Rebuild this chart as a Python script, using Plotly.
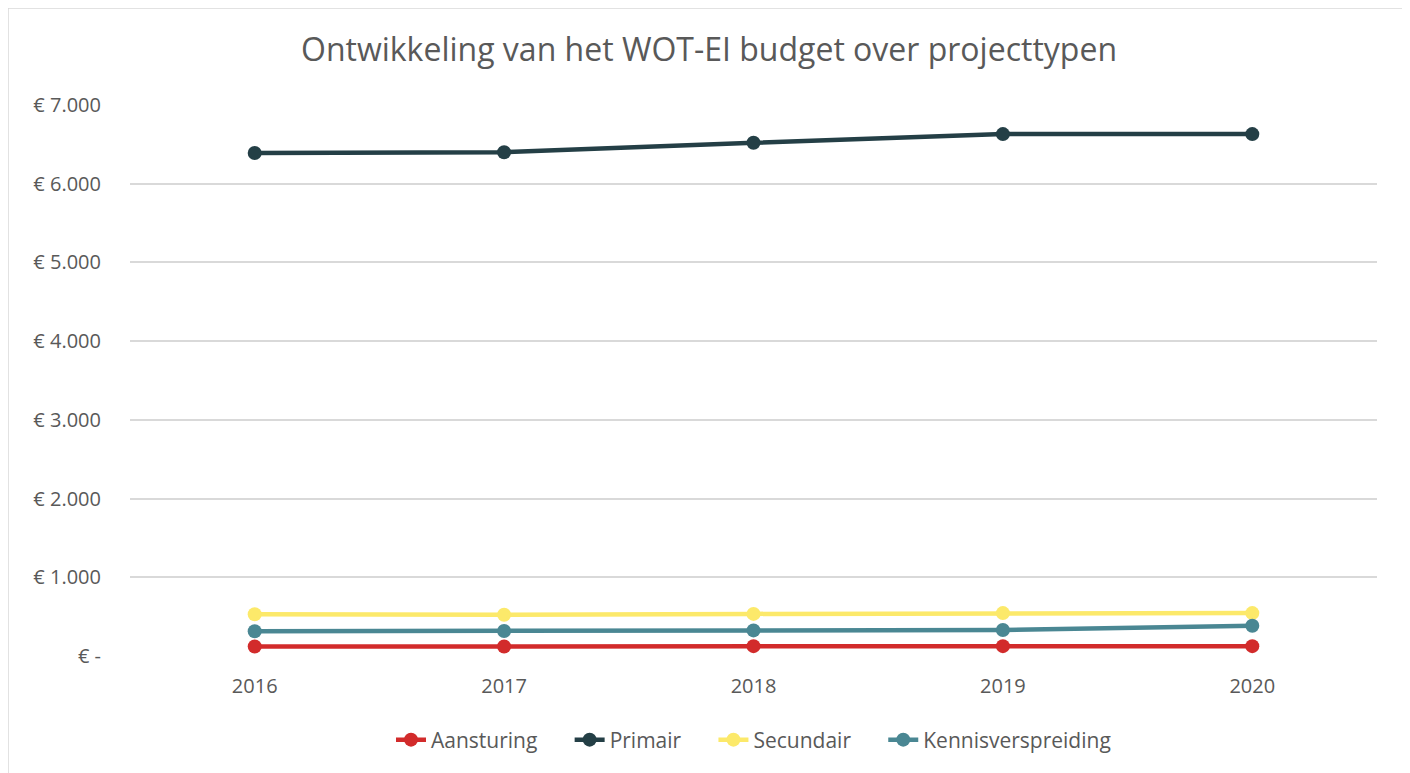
import plotly.graph_objects as go

years = ["2016", "2017", "2018", "2019", "2020"]
aansturing = [120, 120, 125, 125, 125]
primair = [6390, 6400, 6520, 6630, 6630]
secundair = [530, 525, 535, 545, 545]
kennisverspreiding = [315, 318, 325, 330, 385]

series = [
    ("Aansturing", aansturing, "#D22B2B"),
    ("Primair", primair, "#243F46"),
    ("Secundair", secundair, "#FCE96A"),
    ("Kennisverspreiding", kennisverspreiding, "#4A8793"),
]

tick_vals = [0, 1000, 2000, 3000, 4000, 5000, 6000, 7000]
tick_text = ["€ -", "€ 1.000", "€ 2.000", "€ 3.000", "€ 4.000", "€ 5.000", "€ 6.000", "€ 7.000"]

GAP = "\u00a0" * 5

fig = go.Figure()
for i, (name, vals, col) in enumerate(series):
    label = name + (GAP if i < len(series) - 1 else "")
    fig.add_trace(go.Scatter(
        x=years, y=vals, name=label, mode="lines+markers",
        line=dict(color=col, width=4.5),
        marker=dict(color=col, size=14),
        hovertemplate=name + ": %{y}<extra></extra>",
    ))

# page is rendered with an 8px body offset
OFF = 8
W, H = 1410 - OFF, 773 - OFF
ml, mr, mt, mb = 130 - OFF, 33, 105 - OFF, 117
pw, ph = W - ml - mr, H - mt - mb

def px_x(p):
    return (p - OFF - ml) / pw

def px_y(p):
    return (H - mb - (p - OFF)) / ph

fig.add_shape(type="rect", xref="paper", yref="paper",
              x0=px_x(8), x1=px_x(1404), y0=px_y(800), y1=px_y(8),
              line=dict(color="#D9D9D9", width=1.5), fillcolor="rgba(0,0,0,0)", layer="below")

fig.update_layout(
    width=W, height=H,
    margin=dict(l=ml, r=mr, t=mt, b=mb),
    paper_bgcolor="white", plot_bgcolor="white",
    font=dict(family="Open Sans, sans-serif", color="#595959"),
    title=dict(text="Ontwikkeling van het WOT-EI budget over projecttypen",
               x=0.5, xanchor="center", y=1 - (50 - OFF) / H, yanchor="middle",
               font=dict(size=32, color="#595959")),
    xaxis=dict(type="category", showgrid=False, zeroline=False, showline=False,
               ticks="", tickfont=dict(size=20, color="#595959"), range=[-0.5, 4.5]),
    yaxis=dict(range=[0, 7000], tickvals=tick_vals, ticktext=tick_text,
               showgrid=True, gridcolor="#D9D9D9", gridwidth=1.5, zeroline=False,
               showline=False, ticks="", ticklen=0, tickfont=dict(size=20, color="#595959"),
               automargin=False),
    legend=dict(orientation="h", x=0.5, xanchor="center", y=px_y(740), yanchor="middle",
                font=dict(size=21, color="#595959"), traceorder="normal"),
    showlegend=True,
)
fig.update_yaxes(ticklabelstandoff=28)
fig.update_xaxes(ticklabelstandoff=16)

fig.write_html("out.html")
